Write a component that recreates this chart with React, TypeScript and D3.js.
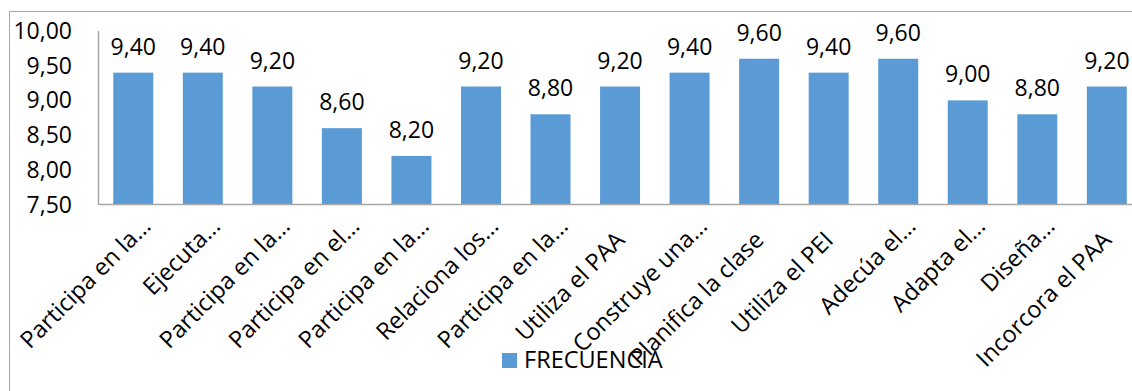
import React from "react";
import * as d3 from "d3";

const categories: string[] = [
  "Participa en la…",
  "Ejecuta…",
  "Participa en la…",
  "Participa en el…",
  "Participa en la…",
  "Relaciona los…",
  "Participa en la…",
  "Utiliza el PAA",
  "Construye una…",
  "Planifica la clase",
  "Utiliza el PEI",
  "Adecúa el…",
  "Adapta el…",
  "Diseña…",
  "Incorcora el PAA",
];

const frecuencia: number[] = [9.4, 9.4, 9.2, 8.6, 8.2, 9.2, 8.8, 9.2, 9.4, 9.6, 9.4, 9.6, 9.0, 8.8, 9.2];

const yTicks: number[] = [7.5, 8.0, 8.5, 9.0, 9.5, 10.0];

const seriesName = "FRECUENCIA";

const W = 1132;
const H = 391;
const FONT = "'Open Sans', 'Noto Sans', sans-serif";
const BAR = "#5B9BD5";
const AXIS = "#A6A6A6";
const NUM_SIZE = 23;
const CAT_SIZE = 23.5;

const fmt = (v: number) => v.toFixed(2).replace(".", ",");

export default function App() {
  const left = 98.5;
  const step = 69.54;
  const right = left + step * categories.length;
  const top = 31;
  const bottom = 204.5;

  const x = d3
    .scaleBand<number>()
    .domain(d3.range(categories.length))
    .range([left, right])
    .paddingInner(0.425)
    .paddingOuter(0.2125);

  const y = d3.scaleLinear().domain([7.5, 10]).range([bottom, top]);

  return (
    <svg
      width={W}
      height={H}
      style={{ position: "absolute", left: 0, top: 0, background: "#fff" }}
      fontFamily={FONT}
    >
      <rect x={9.5} y={11.5} width={W + 20} height={H + 20} fill="#fff" stroke={AXIS} strokeWidth={1} />

      {/* value axis labels */}
      {yTicks.map((t) => (
        <text key={t} x={72} y={y(t)} dy="0.35em" textAnchor="end" fontSize={NUM_SIZE} fill="#000">
          {fmt(t)}
        </text>
      ))}

      {/* bars */}
      {frecuencia.map((v, i) => (
        <rect key={i} x={x(i)} y={y(v)} width={x.bandwidth()} height={bottom - y(v)} fill={BAR} />
      ))}

      {/* data labels */}
      {frecuencia.map((v, i) => (
        <text
          key={"l" + i}
          x={(x(i) as number) + x.bandwidth() / 2}
          y={y(v) - 18}
          textAnchor="middle"
          fontSize={NUM_SIZE}
          fill="#000"
        >
          {fmt(v)}
        </text>
      ))}

      {/* axes */}
      <line x1={left} x2={left} y1={top} y2={bottom} stroke={AXIS} strokeWidth={1.5} />
      <line x1={left} x2={right} y1={bottom} y2={bottom} stroke={AXIS} strokeWidth={1.5} />

      {/* category labels: truncated ones sit a little further along the slant */}
      {categories.map((c, i) => {
        const truncated = c.endsWith("…");
        const cx = (x(i) as number) + x.bandwidth() / 2 + (truncated ? 19 : 6);
        const cy = bottom + (truncated ? 23 : 37);
        return (
          <text
            key={"c" + i}
            x={cx}
            y={cy}
            textAnchor="end"
            fontSize={CAT_SIZE}
            fill="#000"
            transform={`rotate(-45 ${cx} ${cy})`}
          >
            {c}
          </text>
        );
      })}

      {/* legend */}
      <rect x={502} y={353} width={15} height={15} fill={BAR} />
      <text x={524} y={368} fontSize={CAT_SIZE} fill="#000">
        {seriesName}
      </text>
    </svg>
  );
}
